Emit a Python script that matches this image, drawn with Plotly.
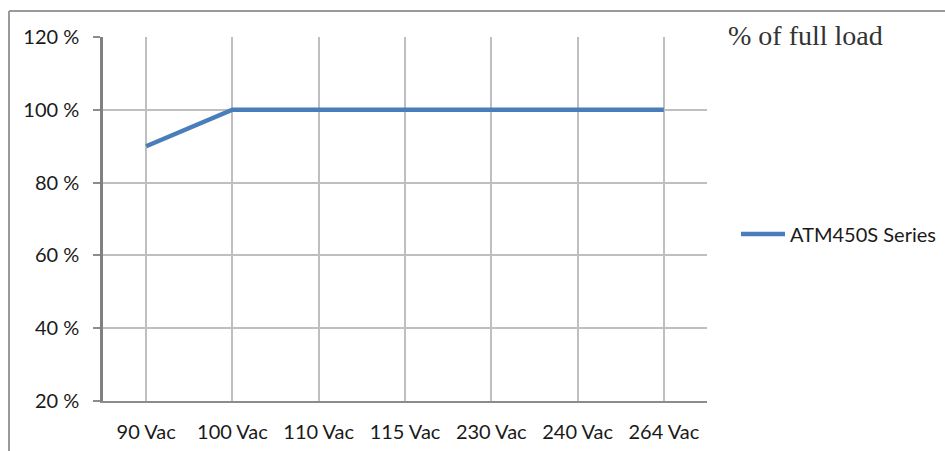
import plotly.graph_objects as go

categories = ["90 Vac", "100 Vac", "110 Vac", "115 Vac", "230 Vac", "240 Vac", "264 Vac"]
load_pct = [90, 100, 100, 100, 100, 100, 100]
series_name = "ATM450S Series"
y_ticks = [20, 40, 60, 80, 100, 120]
y_ticklabels = [f"{v} %" for v in y_ticks]

W, H = 945, 451
L, R, T, B = 103, 707, 37, 401


def px(x):
    return (x - L) / (R - L)


def py(y):
    return (B - y) / (B - T)


fig = go.Figure()
fig.add_trace(go.Scatter(
    x=categories, y=load_pct, mode="lines", name=series_name,
    line=dict(color="#4a7ebb", width=4.5),
))

fig.update_layout(
    width=W, height=H,
    margin=dict(l=L, r=W - R, t=T, b=H - B, pad=0, autoexpand=False),
    paper_bgcolor="white", plot_bgcolor="white",
    font=dict(family="Lato", size=20, color="#1a1a1a"),
    showlegend=True,
    legend=dict(xref="container", yref="container", x=736 / W, y=1 - 234 / H,
                xanchor="left", yanchor="middle",
                font=dict(family="Lato", size=20, color="#1a1a1a"),
                itemwidth=44, bgcolor="rgba(0,0,0,0)"),
    xaxis=dict(type="category", range=[-0.5, 6.5], showgrid=True, gridcolor="#bfbfbf", gridwidth=1.5,
               showline=True, linecolor="#8c8c8c", linewidth=2, ticks="", ticklabelstandoff=12,
               zeroline=False, fixedrange=True, automargin=False),
    yaxis=dict(range=[20, 120], tickvals=y_ticks, ticktext=y_ticklabels, showgrid=True,
               gridcolor="#bfbfbf", gridwidth=1.5, showline=True, linecolor="#808080", linewidth=2.5,
               ticks="outside", ticklen=7, tickcolor="#8c8c8c", tickwidth=1.5,
               ticklabelstandoff=10, zeroline=False, fixedrange=True, automargin=False),
    annotations=[dict(text="% of full load", xref="paper", yref="paper",
                      x=px(726), y=py(35), xanchor="left", yanchor="middle",
                      showarrow=False, font=dict(family="Liberation Serif", size=28, color="#333333"))],
    shapes=[
        dict(type="line", xref="paper", yref="paper", x0=px(9), x1=px(945),
             y0=py(11), y1=py(11), line=dict(color="#9a9a9a", width=2)),
        dict(type="line", xref="paper", yref="paper", x0=px(9), x1=px(9),
             y0=py(11), y1=py(451), line=dict(color="#9a9a9a", width=2)),
    ],
)

fig.write_html("out.html", config={"displayModeBar": False},
               post_script="document.body.style.margin='0';document.body.style.overflow='hidden';")
